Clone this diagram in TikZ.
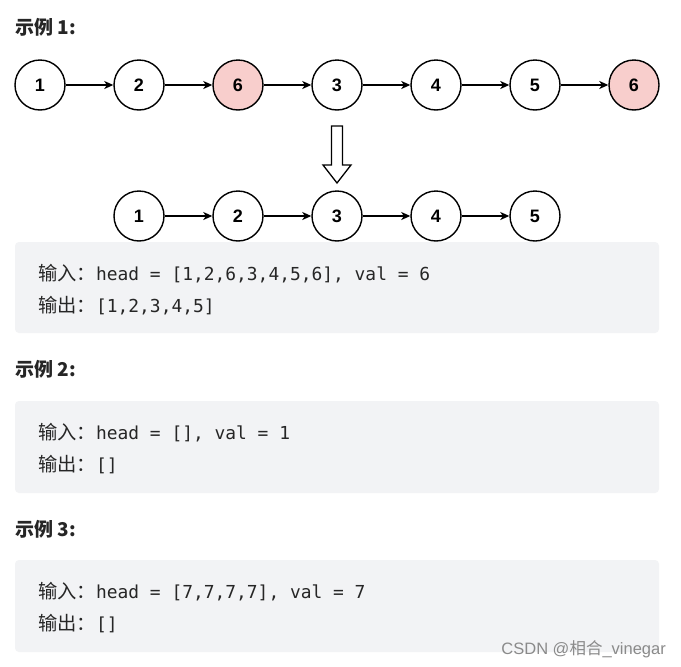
\documentclass[tikz,border=0pt]{standalone}
\usepackage{fontspec}
\setmainfont{Liberation Sans}
\setmonofont{DejaVu Sans Mono}
\newfontfamily\cjk{Noto Sans CJK SC}
\usetikzlibrary{arrows.meta}
\definecolor{boxgray}{HTML}{F2F3F5}
\definecolor{pinkfill}{HTML}{F8CECC}
\definecolor{txt}{HTML}{262626}
\definecolor{wm}{HTML}{8A8A8A}
\tikzset{
  lnode/.style={circle,draw=black,line width=1.4pt,minimum size=50pt,inner sep=0pt,fill=white,
    font=\fontsize{18}{18}\selectfont\bfseries},
  rnode/.style={lnode,fill=pinkfill},
  link/.style={line width=1.3pt,-{Stealth[length=9pt,width=8pt,inset=2.5pt]}},
  codebox/.style={fill=boxgray,rounded corners=4pt,draw=none},
  title/.style={anchor=base west,inner sep=0pt,text=txt,font=\cjk\bfseries\fontsize{19}{19}\selectfont},
  codeline/.style={anchor=base west,inner sep=0pt,text=txt},
}
\newcommand{\cj}[1]{{\cjk\fontsize{19.3}{19.3}\selectfont #1}}
\newcommand{\cd}[1]{{\ttfamily\fontsize{17.9}{17.9}\selectfont #1}}
\begin{document}
\begin{tikzpicture}[x=1pt,y=-1pt]
\path[use as bounding box,fill=white] (0,0) rectangle (681,667);
% titles
\node[title] (t1) at (15,34) {示例 1:};
\node[title] (t2) at (15,376) {示例 2:};
\node[title] (t3) at (15,536) {示例 3:};
% top list
\node[lnode] (a1) at (40,85) {1};
\node[lnode] (a2) at (139,85) {2};
\node[rnode] (a3) at (238,85) {6};
\node[lnode] (a4) at (337,85) {3};
\node[lnode] (a5) at (436,85) {4};
\node[lnode] (a6) at (535,85) {5};
\node[rnode] (a7) at (634,85) {6};
\foreach \i/\j in {a1/a2,a2/a3,a3/a4,a4/a5,a5/a6,a6/a7}
  \draw[link] (\i) -- (\j);
% hollow arrow
\draw[line width=1.3pt,fill=white,line join=miter]
  (331.5,126) -- (342.5,126) -- (342.5,165) -- (351,165) -- (337,183) -- (323,165) -- (331.5,165) -- cycle;
% bottom list
\node[lnode] (b1) at (139,216) {1};
\node[lnode] (b2) at (238,216) {2};
\node[lnode] (b3) at (337,216) {3};
\node[lnode] (b4) at (436,216) {4};
\node[lnode] (b5) at (535,216) {5};
\foreach \i/\j in {b1/b2,b2/b3,b3/b4,b4/b5}
  \draw[link] (\i) -- (\j);
% code boxes
\path[codebox] (15,242) rectangle (659,333);
\path[codebox] (15,401) rectangle (659,493);
\path[codebox] (15,560) rectangle (659,652);
\node[codeline] (l1) at (38,280) {\cj{输入：}\cd{head = [1,2,6,3,4,5,6], val = 6}};
\node[codeline] (l2) at (38,312) {\cj{输出：}\cd{[1,2,3,4,5]}};
\node[codeline] (l3) at (38,439) {\cj{输入：}\cd{head = [], val = 1}};
\node[codeline] (l4) at (38,471) {\cj{输出：}\cd{[]}};
\node[codeline] (l5) at (38,598) {\cj{输入：}\cd{head = [7,7,7,7], val = 7}};
\node[codeline] (l6) at (38,630) {\cj{输出：}\cd{[]}};
% watermark
\node[anchor=base east,inner sep=0pt,text=wm,font=\fontsize{16.5}{16.5}\selectfont] (wm) at (666,654)
  {CSDN @{\cjk 相合}\_vinegar};
\end{tikzpicture}
\end{document}
